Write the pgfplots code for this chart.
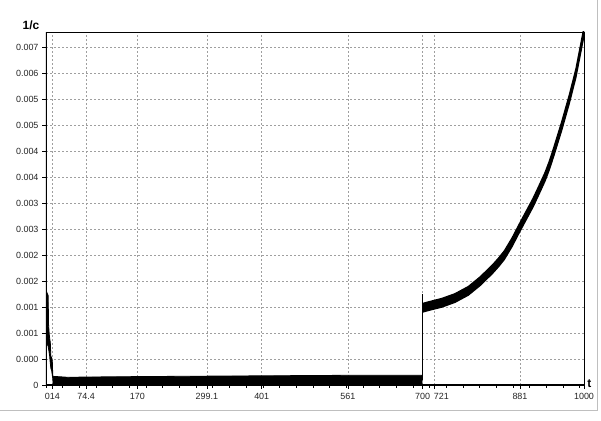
\documentclass[border=0pt]{standalone}
\usepackage{fontspec}
\setmainfont{Liberation Sans}
\usepackage{pgfplots}
\pgfplotsset{compat=1.18}
\begin{document}
\begin{tikzpicture}
\useasboundingbox (0,0) rectangle (601bp,421bp);
\fill[white] (0,0) rectangle (601bp,421bp);
\draw[gray!50, line width=1bp] (0,10bp) -- (597bp,10bp) -- (597bp,421bp);
\begin{axis}[
  at={(46bp,36bp)}, anchor=south west,
  scale only axis, width=538bp, height=353bp,
  xmin=0, xmax=1000, ymin=0, ymax=0.00731,
  axis line style={black, line width=0.8bp},
  xtick={12,74.4,170,299.1,401,561,700,721,881,1000},
  xticklabels={014,74.4,170,299.1,401,561,700,\makebox[0pt][l]{721},881,1000},
  minor xtick={0,31,...,1000},
  ytick={0,0.000538,0.001077,0.001615,0.002154,0.002692,0.003231,0.003769,0.004308,0.004846,0.005385,0.005923,0.006462,0.007},
  yticklabels={0,0.000,0.001,0.001,0.002,0.002,0.003,0.003,0.004,0.004,0.005,0.005,0.006,0.007},
  scaled y ticks=false, scaled x ticks=false,
  xtick pos=lower, ytick pos=left,
  tick align=outside,
  major tick length=4bp, minor tick length=3bp,
  tick style={black, line width=0.6bp},
  xmajorgrids, ymajorgrids,
  major grid style={gray!75, dash pattern=on 2bp off 2bp, line width=0.6bp},
  ticklabel style={font=\fontsize{9}{10}\selectfont, text=black!85},
  xticklabel style={yshift=-1bp},
  xlabel={\bfseries t},
  xlabel style={font=\fontsize{12}{14}\selectfont, at={(axis description cs:1.0102,0.004)}, anchor=center},
  ylabel={\bfseries 1/c},
  ylabel style={font=\fontsize{12}{14}\selectfont, rotate=-90, at={(axis description cs:-0.028,1.02)}, anchor=center},
]
% early spike and long noisy band (envelope)
\addplot[fill=black, draw=black, line width=0.8bp] coordinates {
(2.2,0.00190) (4,0.00185) (4.8,0.00125) (6,0.00105) (7,0.00095) (8,0.00088) (9,0.00060) (11,0.00055) (12,0.00045) (12.5,0.00018)
(40,0.00016) (120,0.00017) (250,0.00018) (400,0.00019) (550,0.00020) (699,0.00020)
(699,0.00001) (400,0.00001) (150,0.00002) (13,0.00002) (13,0.00010)
(10.5,0.00030) (9,0.00035) (8,0.00045) (6.8,0.00060) (5.5,0.00070) (4,0.00080) (2.2,0.00085)
} -- cycle;
% jump at t=700
\addplot[black, line width=1.2bp] coordinates {(700,0.0001) (700,0.00188)};
% rising curve (envelope)
\addplot[fill=black, draw=black, line width=1.2bp] coordinates {
(700.5,0.00169)(710,0.00172)(735,0.00179)(760,0.00189)(785,0.00204)(807,0.00224)(830,0.00249)(842,0.00264)(852,0.00278)(866,0.00304)(879,0.00332)(892,0.00359)(905,0.00386)(916,0.00412)(927.5,0.00440)(935,0.00462)(943,0.00489)(958.5,0.00545)(972.7,0.00601)(985,0.00655)(994.4,0.00709)(1000,0.00741)
(1000,0.00723)(994.4,0.00691)(985,0.00637)(972.7,0.00583)(958.5,0.00527)(943,0.00471)(935,0.00444)(927.5,0.00422)(916,0.00394)(905,0.00368)(892,0.00341)(879,0.00314)(866,0.00286)(852,0.00260)(842,0.00246)(830,0.00231)(807,0.00206)(785,0.00186)(760,0.00171)(735,0.00161)(710,0.00154)(700.5,0.00151)
} -- cycle;
\draw[black, line width=2.4bp] (rel axis cs:0,1) -- (rel axis cs:0,0) -- (rel axis cs:1,0);
\end{axis}
\end{tikzpicture}
\end{document}
